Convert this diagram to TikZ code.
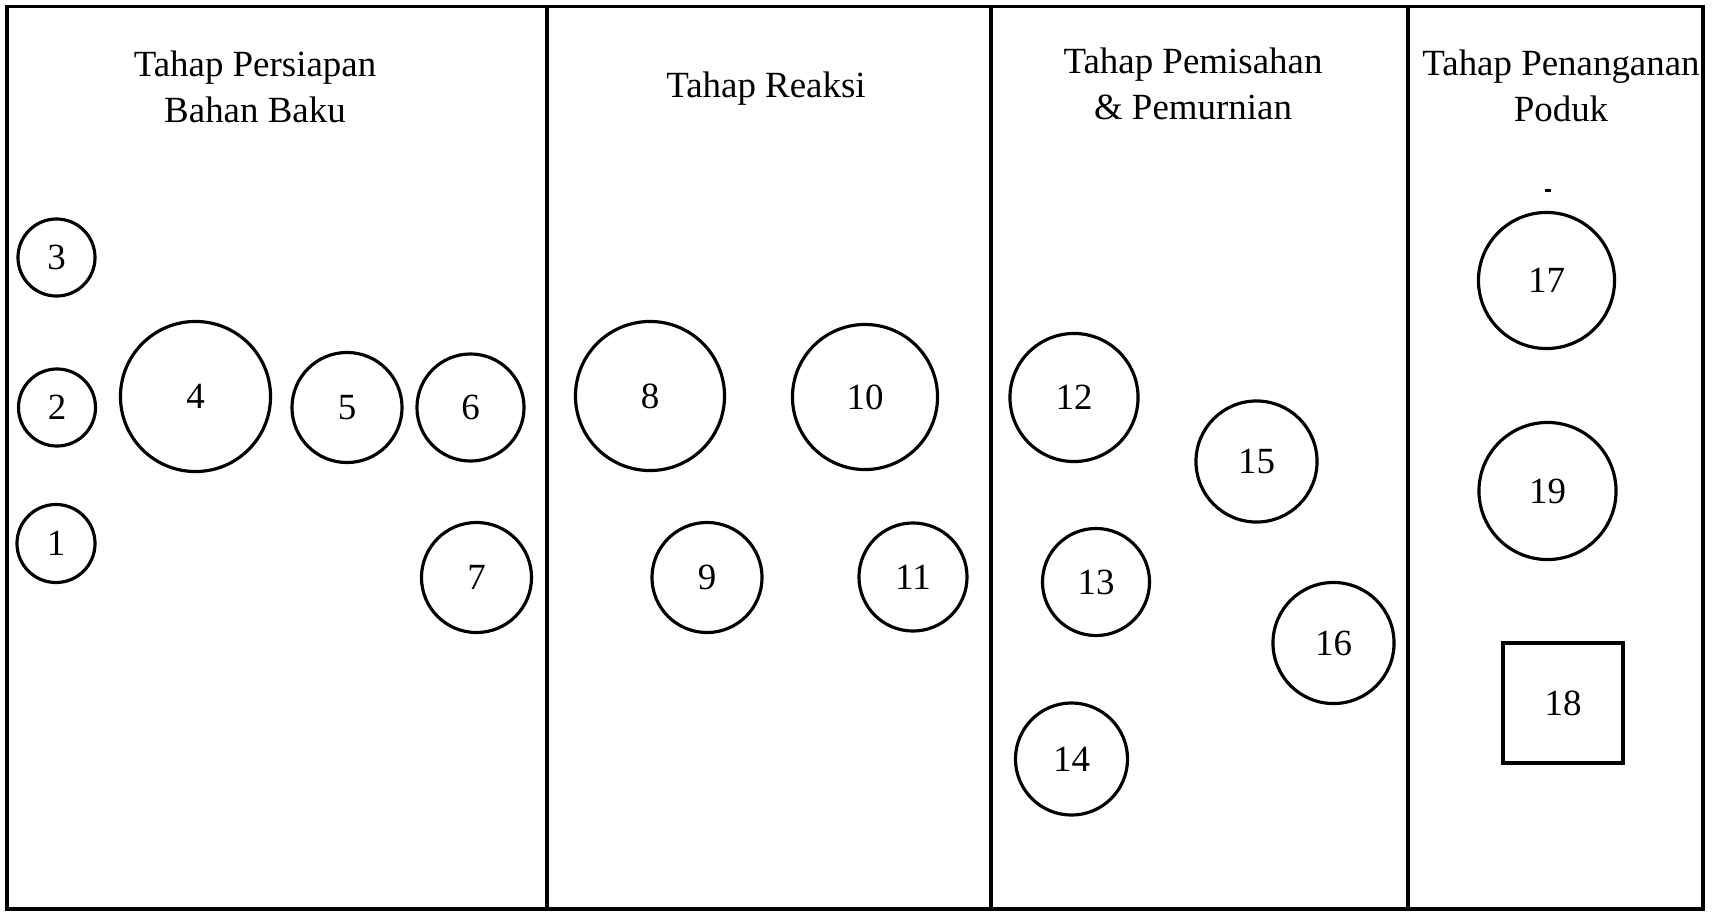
\documentclass[tikz,border=0pt]{standalone}
\usepackage{fontspec}
\setmainfont{Liberation Serif}
\usetikzlibrary{positioning}
\tikzset{
	teks/.style={font=\fontsize{10.5}{13}\selectfont}
}
\tikzset{
	alat/.style={circle, draw, line width=0.9pt, inner sep=0pt, teks},
	tangki/.style={rectangle, draw, line width=0.9pt, inner sep=0pt, teks},
	judul/.style={align=center, teks}
}

\begin{document}
\begin{tikzpicture}[x=0.01cm, y=-0.01cm]
      \useasboundingbox (0,0) rectangle (1718,912);
      % outer frame and the three stage dividers
      \draw[line width=0.9pt] (7,6.5) rectangle (1703,909);
      \foreach \xd in {547,991,1408}
        \draw[line width=1pt] (\xd,6.5) -- (\xd,909);
      % stage titles
      \node[judul] (persiapan) at (255,87) {Tahap Persiapan\\Bahan Baku};
      \node[judul] (reaksi) at (766,89) {Tahap Reaksi};
      \node[judul] (pemisahan) at (1193,84) {Tahap Pemisahan\\\& Pemurnian};
      \node[judul] (penanganan) at (1561,86) {Tahap Penanganan\\Poduk};
      % raw material preparation
      \node[alat, minimum size=0.77cm] (a3) at (56.5,257.5) {3};
      \node[alat, minimum size=0.77cm] (a2) at (57,407.5) {2};
      \node[alat, minimum size=0.78cm] (a1) at (56,543.5) {1};
      \node[alat, minimum size=1.50cm] (a4) at (195.5,396.5) {4};
      \node[alat, minimum size=1.10cm] (a5) at (347,407.5) {5};
      \node[alat, minimum size=1.07cm] (a6) at (470.5,407.5) {6};
      \node[alat, minimum size=1.10cm] (a7) at (476.5,577.5) {7};
      % reaction
      \node[alat, minimum size=1.49cm] (a8) at (650,396) {8};
      \node[alat, minimum size=1.10cm] (a9) at (707,577.5) {9};
      \node[alat, minimum size=1.45cm] (a10) at (865,397) {10};
      \node[alat, minimum size=1.08cm] (a11) at (913,577) {11};
      % separation and purification
      \node[alat, minimum size=1.28cm] (a12) at (1074,397.5) {12};
      \node[alat, minimum size=1.07cm] (a13) at (1096,582) {13};
      \node[alat, minimum size=1.12cm] (a14) at (1071.5,759) {14};
      \node[alat, minimum size=1.21cm] (a15) at (1256.5,461.5) {15};
      \node[alat, minimum size=1.21cm] (a16) at (1333.5,643) {16};
      % product handling
      \draw[line width=0.6pt] (1545,190.5) -- (1551,190.5);
      \node[alat, minimum size=1.36cm] (a17) at (1546.5,280.5) {17};
      \node[alat, minimum size=1.37cm] (a19) at (1547.5,491) {19};
      \node[tangki, minimum size=1.20cm] (a18) at (1563,703) {18};
    \end{tikzpicture}
\end{document}
